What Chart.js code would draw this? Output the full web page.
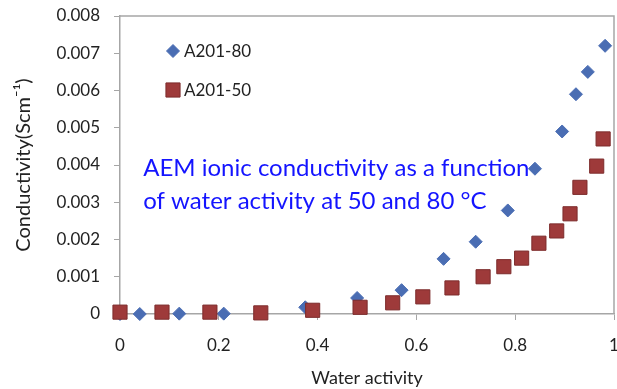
<!DOCTYPE html>
<html>
<head>
<meta charset="utf-8">
<script src="https://cdn.jsdelivr.net/npm/chart.js@4/dist/chart.umd.min.js"></script>
<style>
  html, body { margin: 0; padding: 0; background: #fff; }
  #box { width: 617px; height: 389px; }
</style>
</head>
<body>
<div id="box"><canvas id="chart" width="617" height="389"></canvas></div>
<script>
// data
const seriesNames = ['A201-80', 'A201-50'];
const waterActivity80 = [0, 0.04, 0.12, 0.21, 0.375, 0.48, 0.57, 0.655, 0.72, 0.785, 0.84, 0.895, 0.923, 0.947, 0.982];
const conductivity80 = [0, 0, 0.00001, 0.00001, 0.00018, 0.00043, 0.00064, 0.00148, 0.00194, 0.00278, 0.0039, 0.0049, 0.0059, 0.0065, 0.0072];
const waterActivity50 = [0, 0.085, 0.182, 0.285, 0.39, 0.486, 0.552, 0.613, 0.672, 0.735, 0.777, 0.813, 0.848, 0.884, 0.911, 0.931, 0.965, 0.978];
const conductivity50 = [0.00005, 0.00005, 0.00005, 0.00003, 0.0001, 0.00018, 0.0003, 0.00046, 0.0007, 0.001, 0.00127, 0.0015, 0.0019, 0.00223, 0.00269, 0.0034, 0.00397, 0.0047];
const xTickLabels = ['0', '0.2', '0.4', '0.6', '0.8', '1'];
const yTickLabels = ['0', '0.001', '0.002', '0.003', '0.004', '0.005', '0.006', '0.007', '0.008'];
const noteLines = ['AEM ionic conductivity as a function', 'of water activity at 50 and 80 °C'];

const FONT = 'Lato, "Open Sans", sans-serif';
const GRAY = '#a6a6a6';

function toPoints(xs, ys) {
    return xs.map((x, i) => ({ x: x, y: ys[i] }));
}

// frame around the plot, legend inside it, blue note
const extras = {
    id: 'extras',
    afterDraw(chart) {
        const ctx = chart.ctx;
        const a = chart.chartArea;
        const xs = chart.scales.x, ys = chart.scales.y;
        ctx.save();
        ctx.strokeStyle = GRAY;
        ctx.lineWidth = 1.5;
        ctx.beginPath();
        ctx.moveTo(a.left, a.top);
        ctx.lineTo(a.right, a.top);
        ctx.lineTo(a.right, a.bottom);
        ctx.stroke();

        // legend
        ctx.font = '17px ' + FONT;
        ctx.textBaseline = 'middle';
        chart.data.datasets.forEach((ds, i) => {
            const cx = a.left + 53, cy = a.top + 35 + i * 39;
            ctx.fillStyle = ds.backgroundColor;
            ctx.strokeStyle = ds.borderColor;
            ctx.lineWidth = 1;
            Chart.helpers.drawPoint(ctx, {
                pointStyle: ds.pointStyle, radius: ds.pointRadius,
                borderWidth: 1
            }, cx, cy);
            ctx.fillStyle = '#222';
            ctx.fillText(ds.label, cx + 11, cy + 1);
        });

        // note
        ctx.font = '24px ' + FONT;
        ctx.fillStyle = '#1414ff';
        ctx.textBaseline = 'middle';
        const nx = xs.getPixelForValue(0.047);
        noteLines.forEach((t, i) => {
            ctx.fillText(t, nx, ys.getPixelForValue(0.0039) + i * 33);
        });
        ctx.restore();
    }
};

const ctx = document.getElementById('chart').getContext('2d');
const chart = new Chart(ctx, {
    type: 'scatter',
    data: {
        datasets: [
            {
                label: seriesNames[0],
                data: toPoints(waterActivity80, conductivity80),
                pointStyle: 'rectRot',
                pointRadius: 6.5,
                backgroundColor: '#4a6db3',
                borderColor: '#4a6db3',
                borderWidth: 1,
                order: 1,
                clip: false
            },
            {
                label: seriesNames[1],
                data: toPoints(waterActivity50, conductivity50),
                pointStyle: 'rect',
                pointRadius: 10,
                backgroundColor: '#9e3a3a',
                borderColor: '#7d2c2c',
                borderWidth: 1,
                order: 0,
                clip: false
            }
        ]
    },
    options: {
        responsive: false,
        animation: false,
        layout: { autoPadding: false, padding: { top: 16, right: 3, left: 0, bottom: 0 } },
        plugins: {
            legend: { display: false },
            tooltip: { enabled: false }
        },
        scales: {
            x: {
                type: 'linear',
                min: 0, max: 1,
                afterFit: s => { s.height = 75; s.paddingLeft = 0; s.paddingRight = 0; },
                border: { display: true, color: GRAY, width: 1.5 },
                grid: { drawOnChartArea: false, drawTicks: true, tickLength: 6, tickColor: GRAY },
                ticks: {
                    stepSize: 0.2,
                    padding: 15,
                    color: '#222',
                    font: { family: FONT, size: 17 },
                    maxRotation: 0,
                    callback: (v, i) => xTickLabels[i]
                },
                title: {
                    display: true,
                    text: 'Water activity',
                    color: '#222',
                    font: { family: FONT, size: 18 },
                    padding: { top: 4, bottom: 0 }
                }
            },
            y: {
                min: 0, max: 0.008,
                afterFit: s => { s.width = 120; s.paddingTop = 0; s.paddingBottom = 0; },
                border: { display: true, color: GRAY, width: 1.5 },
                grid: { drawOnChartArea: false, drawTicks: true, tickLength: 6, tickColor: GRAY },
                ticks: {
                    stepSize: 0.001,
                    padding: 14,
                    color: '#222',
                    font: { family: FONT, size: 17 },
                    callback: (v, i) => yTickLabels[i]
                },
                title: {
                    display: true,
                    text: 'Conductivity(Scm⁻¹)',
                    color: '#222',
                    font: { family: FONT, size: 20 },
                    padding: { top: 12, bottom: 0 }
                }
            }
        }
    },
    plugins: [extras]
});
</script>
</body>
</html>
